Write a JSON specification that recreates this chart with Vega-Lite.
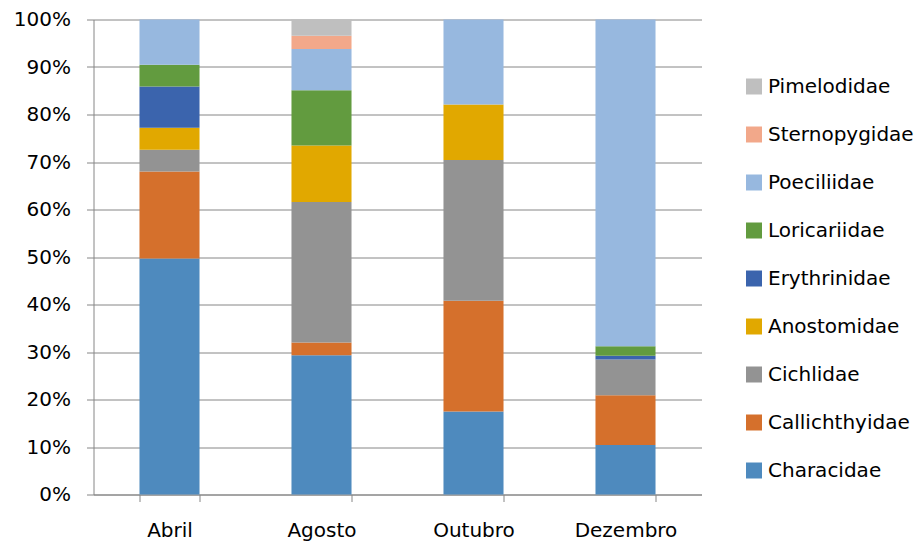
{
  "$schema": "https://vega.github.io/schema/vega-lite/v6.json",
  "width": 608,
  "height": 475,
  "autosize": "none",
  "padding": {"left": 93.5, "top": 19.5, "right": 218.5, "bottom": 53.5},
  "background": "white",
  "config": {
    "view": {"stroke": null},
    "font": "DejaVu Sans"
  },
  "data": {
    "values": [
      {"mes": "Abril", "familia": "Characidae", "valor": 49.7},
      {"mes": "Abril", "familia": "Callichthyidae", "valor": 18.3},
      {"mes": "Abril", "familia": "Cichlidae", "valor": 4.6},
      {"mes": "Abril", "familia": "Anostomidae", "valor": 4.6},
      {"mes": "Abril", "familia": "Erythrinidae", "valor": 8.7},
      {"mes": "Abril", "familia": "Loricariidae", "valor": 4.6},
      {"mes": "Abril", "familia": "Poeciliidae", "valor": 9.5},
      {"mes": "Agosto", "familia": "Characidae", "valor": 29.3},
      {"mes": "Agosto", "familia": "Callichthyidae", "valor": 2.7},
      {"mes": "Agosto", "familia": "Cichlidae", "valor": 29.6},
      {"mes": "Agosto", "familia": "Anostomidae", "valor": 11.9},
      {"mes": "Agosto", "familia": "Loricariidae", "valor": 11.6},
      {"mes": "Agosto", "familia": "Poeciliidae", "valor": 8.7},
      {"mes": "Agosto", "familia": "Sternopygidae", "valor": 2.8},
      {"mes": "Agosto", "familia": "Pimelodidae", "valor": 3.4},
      {"mes": "Outubro", "familia": "Characidae", "valor": 17.5},
      {"mes": "Outubro", "familia": "Callichthyidae", "valor": 23.3},
      {"mes": "Outubro", "familia": "Cichlidae", "valor": 29.6},
      {"mes": "Outubro", "familia": "Anostomidae", "valor": 11.7},
      {"mes": "Outubro", "familia": "Poeciliidae", "valor": 17.9},
      {"mes": "Dezembro", "familia": "Characidae", "valor": 10.4},
      {"mes": "Dezembro", "familia": "Callichthyidae", "valor": 10.5},
      {"mes": "Dezembro", "familia": "Cichlidae", "valor": 7.5},
      {"mes": "Dezembro", "familia": "Erythrinidae", "valor": 0.8},
      {"mes": "Dezembro", "familia": "Loricariidae", "valor": 2.0},
      {"mes": "Dezembro", "familia": "Poeciliidae", "valor": 68.8}
    ]
  },
  "transform": [
    {"calculate": "indexof(['Characidae','Callichthyidae','Cichlidae','Anostomidae','Erythrinidae','Loricariidae','Poeciliidae','Sternopygidae','Pimelodidae'], datum.familia)", "as": "ordem"}
  ],
  "mark": {"type": "bar"},
  "encoding": {
    "x": {
      "field": "mes",
      "type": "nominal",
      "sort": ["Abril", "Agosto", "Outubro", "Dezembro"],
      "scale": {"paddingInner": 0.605, "paddingOuter": 0.3025},
      "axis": {
        "title": null,
        "labelAngle": 0,
        "labelFontSize": 20,
        "labelColor": "#000000",
        "labelPadding": 19,
        "domainColor": "#868686",
        "tickColor": "#868686",
        "tickSize": 7,
        "tickBand": "extent",
        "grid": false
      }
    },
    "y": {
      "field": "valor",
      "type": "quantitative",
      "stack": "normalize",
      "scale": {"domain": [0, 1], "nice": false},
      "axis": {
        "title": null,
        "values": [0, 0.1, 0.2, 0.3, 0.4, 0.5, 0.6, 0.7, 0.8, 0.9, 1],
        "format": ".0%",
        "labelFontSize": 20,
        "labelColor": "#000000",
        "labelPadding": 16,
        "domainColor": "#868686",
        "tickColor": "#868686",
        "tickSize": 7,
        "grid": true,
        "gridColor": "#868686",
        "gridWidth": 1
      }
    },
    "order": {"field": "ordem", "type": "quantitative", "sort": "ascending"},
    "color": {
      "field": "familia",
      "type": "nominal",
      "scale": {
        "domain": ["Characidae", "Callichthyidae", "Cichlidae", "Anostomidae", "Erythrinidae", "Loricariidae", "Poeciliidae", "Sternopygidae", "Pimelodidae"],
        "range": ["#4E8ABE", "#D5702C", "#939393", "#E1A800", "#3B64AD", "#629B3F", "#97B8DF", "#F2A88A", "#BFBFBF"]
      },
      "legend": {
        "title": null,
        "orient": "none",
        "legendX": 650.5,
        "legendY": 57,
        "values": ["Pimelodidae", "Sternopygidae", "Poeciliidae", "Loricariidae", "Erythrinidae", "Anostomidae", "Cichlidae", "Callichthyidae", "Characidae"],
        "symbolType": "square",
        "symbolSize": 256,
        "symbolStrokeWidth": 0,
        "labelFontSize": 20,
        "labelColor": "#000000",
        "labelOffset": 4,
        "rowPadding": 28,
        "padding": 0
      }
    }
  }
}
